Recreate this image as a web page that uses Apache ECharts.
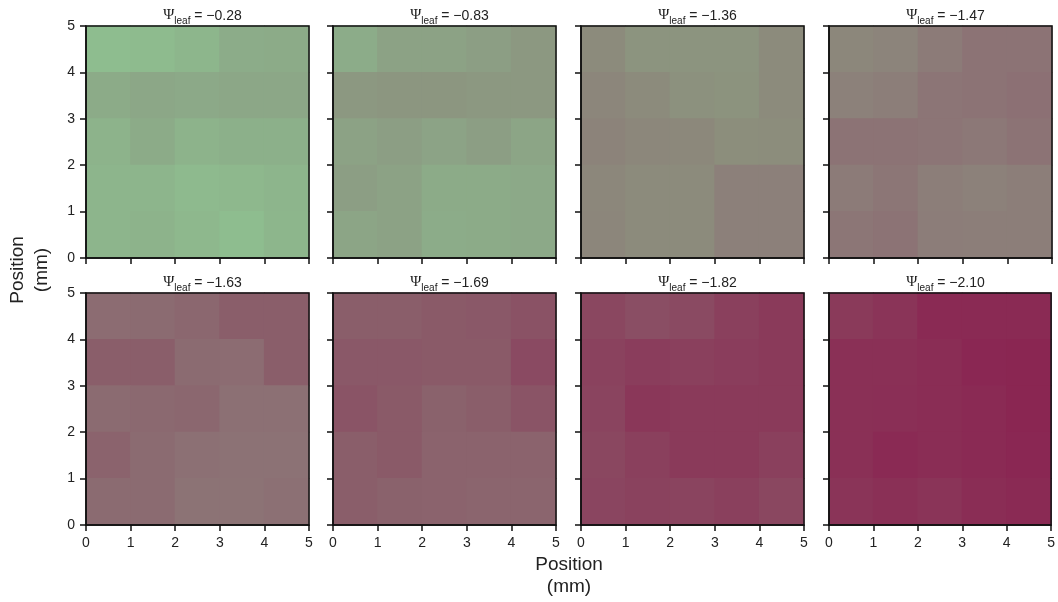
<!DOCTYPE html>
<html>
<head>
<meta charset="utf-8">
<script src="https://cdn.jsdelivr.net/npm/echarts@6/dist/echarts.min.js"></script>
<style>
  html, body { margin: 0; padding: 0; background: #fff; }
  #chart { width: 1058px; height: 602px; }
</style>
</head>
<body>
<div id="chart"></div>
<script>
// leaf water potential of each panel
const psiLeaf = ['\u22120.28', '\u22120.83', '\u22121.36', '\u22121.47', '\u22121.63', '\u22121.69', '\u22121.82', '\u22122.10'];

// tick labels (mm)
const ticks = [0, 1, 2, 3, 4, 5];

// colour index per 1 mm cell, rows from top (y 4-5) to bottom (y 0-1), columns x 0-1 .. 4-5
// 0 = green, 1 = deep magenta
const cells1 = [
  [0.02, 0.03, 0.06, 0.12, 0.13],
  [0.13, 0.15, 0.14, 0.15, 0.15],
  [0.08, 0.13, 0.08, 0.10, 0.10],
  [0.07, 0.07, 0.04, 0.05, 0.07],
  [0.07, 0.08, 0.05, 0.02, 0.06]
];
const cells2 = [
  [0.12, 0.18, 0.18, 0.20, 0.24],
  [0.24, 0.25, 0.25, 0.24, 0.24],
  [0.18, 0.20, 0.17, 0.20, 0.16],
  [0.20, 0.18, 0.13, 0.13, 0.14],
  [0.16, 0.18, 0.12, 0.13, 0.14]
];
const cells3 = [
  [0.32, 0.26, 0.26, 0.26, 0.32],
  [0.36, 0.32, 0.28, 0.27, 0.32],
  [0.38, 0.35, 0.34, 0.30, 0.31],
  [0.35, 0.32, 0.32, 0.40, 0.40],
  [0.36, 0.32, 0.32, 0.40, 0.40]
];
const cells4 = [
  [0.35, 0.37, 0.43, 0.48, 0.48],
  [0.39, 0.41, 0.47, 0.48, 0.50],
  [0.48, 0.48, 0.47, 0.45, 0.48],
  [0.43, 0.46, 0.41, 0.39, 0.41],
  [0.46, 0.48, 0.42, 0.41, 0.41]
];
const cells5 = [
  [0.52, 0.53, 0.55, 0.60, 0.60],
  [0.60, 0.60, 0.53, 0.52, 0.60],
  [0.53, 0.54, 0.55, 0.50, 0.50],
  [0.57, 0.53, 0.50, 0.49, 0.49],
  [0.53, 0.53, 0.48, 0.48, 0.50]
];
const cells6 = [
  [0.60, 0.60, 0.62, 0.63, 0.66],
  [0.63, 0.63, 0.62, 0.62, 0.70],
  [0.65, 0.62, 0.58, 0.60, 0.65],
  [0.60, 0.62, 0.57, 0.57, 0.57],
  [0.60, 0.58, 0.57, 0.56, 0.56]
];
const cells7 = [
  [0.72, 0.68, 0.70, 0.76, 0.80],
  [0.75, 0.78, 0.76, 0.78, 0.80],
  [0.74, 0.82, 0.80, 0.80, 0.80],
  [0.72, 0.76, 0.80, 0.80, 0.76],
  [0.73, 0.75, 0.74, 0.76, 0.72]
];
const cells8 = [
  [0.80, 0.84, 0.90, 0.90, 0.90],
  [0.86, 0.86, 0.88, 0.92, 0.93],
  [0.86, 0.87, 0.88, 0.90, 0.93],
  [0.86, 0.90, 0.88, 0.90, 0.92],
  [0.84, 0.86, 0.84, 0.88, 0.90]
];
const panels = [cells1, cells2, cells3, cells4, cells5, cells6, cells7, cells8];

const palette = ['#8fc090', '#8cb08a', '#8c9e84', '#8c8e7c', '#8c807a', '#8c7074',
                 '#8a5e6a', '#8a4a62', '#8a3a5a', '#8a2a54', '#8a1c4e'];

const font = "'Liberation Sans', Arial, sans-serif";
const colLeft = [86, 333, 581, 829];
const rowTop = [26, 293];
const W = 223, H = 232;

const grids = [], xAxes = [], yAxes = [], series = [], titles = [];

panels.forEach(function (rows, i) {
  const c = i % 4, r = Math.floor(i / 4);
  grids.push({ left: colLeft[c], top: rowTop[r], width: W, height: H,
               show: true, borderColor: '#111', borderWidth: 1.5, z: 5 });
  const axisCommon = {
    gridIndex: i, type: 'value', min: ticks[0], max: ticks[ticks.length - 1], interval: 1, z: 6,
    axisLine: { show: true, onZero: false, lineStyle: { color: '#111', width: 1.5 } },
    axisTick: { show: true, length: 6, lineStyle: { color: '#111', width: 1.5 } },
    splitLine: { show: false },
    axisLabel: { fontFamily: font, fontSize: 14, color: '#222', margin: 11 }
  };
  xAxes.push(Object.assign({}, axisCommon, {
    axisLabel: Object.assign({}, axisCommon.axisLabel, { show: r === 1 })
  }));
  yAxes.push(Object.assign({}, axisCommon, {
    axisLabel: Object.assign({}, axisCommon.axisLabel, { show: c === 0 })
  }));

  const data = [];
  rows.forEach(function (row, k) {
    row.forEach(function (v, x) { data.push([x, 4 - k, v]); });
  });
  series.push({
    type: 'custom', xAxisIndex: i, yAxisIndex: i, z: 2,
    encode: { x: 0, y: 1 },
    data: data,
    renderItem: function (params, api) {
      const p0 = api.coord([api.value(0), api.value(1) + 1]);
      const p1 = api.coord([api.value(0) + 1, api.value(1)]);
      // small overlap so neighbouring cells leave no seam
      return {
        type: 'rect',
        shape: { x: p0[0] - 0.5, y: p0[1] - 0.5, width: p1[0] - p0[0] + 1, height: p1[1] - p0[1] + 1 },
        style: { fill: api.visual('color') }
      };
    }
  });

  titles.push({
    text: '{p|\u03a8}{s|leaf}{n| = ' + psiLeaf[i] + '}',
    left: colLeft[c] + W / 2, top: rowTop[r] - 22, textAlign: 'center',
    textStyle: {
      fontWeight: 'normal',
      rich: {
        p: { fontFamily: "'Liberation Serif', serif", fontSize: 15, fontWeight: 'normal', color: '#222', lineHeight: 17, verticalAlign: 'bottom', padding: [0, 0, 3, 0] },
        s: { fontFamily: font, fontSize: 10, fontWeight: 'normal', color: '#222', lineHeight: 12, verticalAlign: 'bottom' },
        n: { fontFamily: font, fontSize: 14, fontWeight: 'normal', color: '#222', lineHeight: 17, verticalAlign: 'bottom', padding: [0, 0, 3, 0] }
      }
    }
  });
});

const chart = echarts.init(document.getElementById('chart'), null, { renderer: 'canvas' });
chart.setOption({
  animation: false,
  title: titles,
  grid: grids,
  xAxis: xAxes,
  yAxis: yAxes,
  visualMap: {
    show: false, type: 'continuous', min: 0, max: 1, dimension: 2,
    seriesIndex: series.map(function (s, i) { return i; }),
    inRange: { color: palette }
  },
  series: series,
  graphic: [
    {
      type: 'text', x: 30, y: 270, rotation: Math.PI / 2,
      style: { text: 'Position\n(mm)', fontFamily: font, fontSize: 19, fill: '#222',
               align: 'center', verticalAlign: 'middle', lineHeight: 24 }
    },
    {
      type: 'text', x: 569, y: 576,
      style: { text: 'Position\n(mm)', fontFamily: font, fontSize: 19, fill: '#222',
               align: 'center', verticalAlign: 'middle', lineHeight: 22 }
    }
  ]
});
</script>
</body>
</html>
